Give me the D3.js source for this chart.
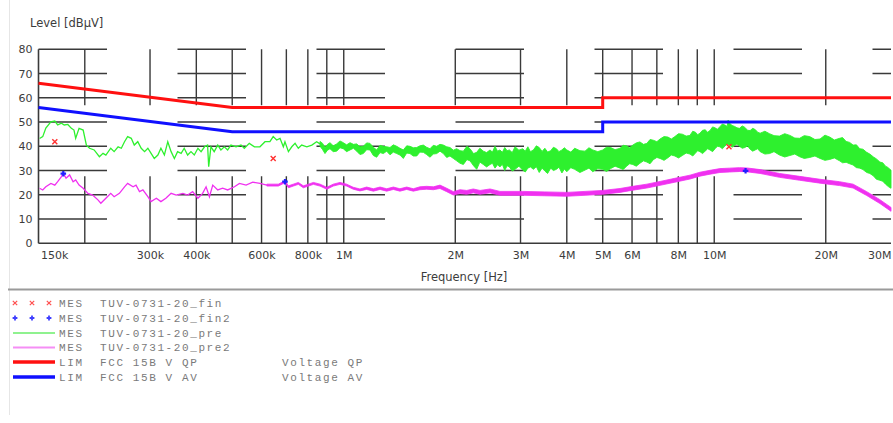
<!DOCTYPE html>
<html><head><meta charset="utf-8">
<script src="https://cdn.jsdelivr.net/npm/d3@7/dist/d3.min.js"></script>
<style>body{margin:0;background:#fff}svg{display:block}</style>
</head><body><svg id="c" width="893" height="423"></svg>
<script>
// ---------- data (frequencies in kHz, levels in dBµV) ----------
const yTicks = [0,10,20,30,40,50,60,70,80];
const xTickValues = [150,300,400,600,800,1000,2000,3000,4000,5000,6000,8000,10000,20000,30000];
const xTickLabels = ["150k","300k","400k","600k","800k","1M","2M","3M","4M","5M","6M","8M","10M","20M","30M"];
const gridFreqs = [200,300,400,500,600,700,800,900,1000,2000,3000,4000,5000,6000,7000,8000,9000,10000,20000];

const qpF = [150,500,5000,5000,30000];
const qpL = [66,56,56,60,60];
const avF = [150,500,5000,5000,30000];
const avL = [56,46,46,50,50];

const finF = [166,645,10960];
const finL = [41.9,35.0,39.8];
const fin2F = [175,694,12150];
const fin2L = [28.7,25.4,29.9];

// pre (green) – sparse part
const preLineF = [151,154,157,162,166,169,173,176,180,184,187,189,193,198,202,206,212,219,224,228,235,240,246,251,256,261,267,272,278,284,290,296,302,308,315,321,328,335,342,349,356,364,371,379,387,395,404,412,421,429,432,438,447,457,466,476,486,496,512,528,539,556,574,594,613,632,645,659,673,687,694,709,724,739,754,770,795,820,845,863];
const preLine = [43.2,44,47.5,50.1,50.4,48.8,49.5,48.8,49,47.4,46.7,43.3,47.4,46.7,40.5,39.2,38.5,35.7,37.1,36.4,39.2,37.8,39.8,39.2,41.9,44,43.3,40.5,41.9,39.2,37.8,39.2,37.1,35,36.4,39.2,36.4,41.9,37.8,35,37.8,37.1,39.2,36.4,37.8,36.4,39.2,37.8,39.8,40.5,31.6,39.8,37.8,40.5,38.5,39.8,38.5,40.5,39.8,40.5,39.2,41.2,39.8,39.8,41.9,41.9,44,42.6,43.3,39.8,41.9,37.8,39.8,41.2,39.2,40.5,39.8,40.5,41.9,41];
// pre (green) – dense part as min/max envelope
const preBandF = [863,877,890,904,918,937,957,977,997,1018,1040,1062,1084,1106,1129,1153,1177,1202,1227,1253,1279,1306,1333,1361,1390,1418,1448,1479,1509,1541,1574,1606,1640,1674,1709,1745,1782,1819,1857,1896,1935,1976,2018,2060,2103,2150,2192,2240,2285,2330,2381,2430,2482,2520,2560,2600,2640,2680,2720,2760,2800,2850,2900,2970,3040,3090,3140,3190,3250,3310,3370,3430,3490,3550,3620,3680,3750,3810,3880,3940,4000,4100,4200,4340,4480,4590,4700,4850,5000,5120,5250,5400,5570,5680,5800,5910,6030,6160,6300,6440,6580,6710,6850,7000,7140,7320,7500,7660,7830,8010,8200,8400,8600,8750,8900,9020,9150,9300,9450,9600,9740,9900,10050,10200,10360,10520,10680,10840,10900,11000,11170,11350,11520,11700,11900,12100,12300,12500,12700,12900,13100,13300,13700,14100,14500,15000,15500,16000,16500,17000,17500,18100,18700,19300,19900,20500,21100,21800,22200,22700,23200,23700,24200,24700,25200,25800,26300,26900,27400,28000,28500,29000,29500,30000];
const preBandLo = [40,38.6,37,38.4,39,37.8,38,39.4,39,37.8,38.5,39.2,38,36.6,37,38.6,38.5,36.2,35.5,37.4,37,38,36.5,37.6,37,36.4,35,37.2,37,36,36,37.6,37.5,36.6,35.5,36.8,37,38,37,35.4,36,35,34,33,32.5,34.5,34,32,30.5,33.5,32.5,31.5,32.5,33,31,32.4,31.5,32.6,30,32,31.5,29.8,30.5,31.8,30.2,29.4,31,31.5,30.5,31.6,29.2,31,29.8,28.8,31,30,30.5,31.4,29,30.6,29.5,31.2,30.5,29.2,30.2,31,29.5,30.8,30.5,29.6,30.8,31.8,31,30.4,31.8,32.8,32.5,31.8,33,34,33.5,32.8,34.5,35.4,35,34.2,35.3,36.4,36,35.2,36.2,37.2,36.8,36,37.2,38.2,37.8,37,38,39,38.5,37.8,39,40,39.8,39,40,41,40.6,40.5,39.6,40.3,41,40,39.2,39.5,40.2,38.8,38,38.5,39,37.8,36.8,37,37.8,36.4,35.6,36.2,36.8,35.7,35,35.4,36,35,34.2,34.6,35.2,34,33.2,33.4,32.8,32.3,31.2,31,30.4,29.2,28.8,27.8,26.4,26,25.6,24.4,23.4,22.7];
const preBandHi = [42,41.2,39.5,40.8,41.5,40.2,41,42.2,41.5,40.6,41.5,40.8,41,39.8,40,41.4,41.2,39.6,38.5,40.4,40,39.8,39.5,40.6,40,39.2,38.5,40.2,40,39.4,39.5,40.2,40.5,39.6,39,40.4,40,40.8,40.5,39.8,39.5,38.4,39,38.2,38,40,39,37,37.5,39.2,38,37.4,38.5,37.6,40,38,38.5,37.5,39.5,38.2,38.5,37.4,39.8,38.4,39,38,39.8,37.8,38.5,40.2,39.5,37.9,39.2,37.6,38.2,39.6,39,37.8,38.5,39.4,38.5,37.6,39.2,38.2,38,39.4,38.5,37.8,38.5,39.6,39.5,38.6,39.2,40.4,40.2,39.4,40.5,41.4,41.8,40.8,41.2,42.8,42.5,41.9,43,44,43.8,43,44,45.2,45,44.2,44.5,46.2,45.8,44.8,45.4,46.6,46.8,45.8,46.5,48,47.6,47,48.1,49.2,48.8,48.2,50.8,49.5,48.6,48.2,47.6,47.4,48.4,47.8,46.6,46.5,47.4,46.9,45.8,45.4,46.2,45.2,44.4,44.2,45.2,44.5,43.4,43.3,44.4,44,42.8,43,44.6,43.8,42.6,43.3,43.6,42,41.6,40.5,40.6,39,38.8,37.5,36.8,35.6,34.8,33.5,33.2,31.8,31.2,30];

// pre2 (magenta) – sparse part
const pre2LineF = [151,154,157,162,166,169,173,175,178,182,186,189,193,198,204,210,217,221,228,235,240,248,256,261,270,275,281,287,296,302,312,321,331,342,353,368,379,391,404,416,425,434,443,457,471,486,507,523,545,568,594,620];
const pre2Line = [22.7,22,23.3,24.7,24,25.4,27.5,28.9,26.8,28.2,25.4,26.1,24,22.7,20.6,19.9,17.9,16.5,18.6,20.6,19.2,20.6,23.3,24.7,23.3,24,21.3,22,19.2,17.2,18.6,17.2,18.6,20.6,19.9,20.6,19.9,21.3,18.6,20.6,23.3,19.2,24,22,22.7,22,23.3,24.7,24,25.2,24.7,24];
// pre2 (magenta) – dense part as min/max envelope
const pre2BandF = [620,666,694,709,731,754,778,803,828,863,900,937,977,1018,1061,1106,1153,1202,1253,1306,1361,1418,1479,1541,1606,1674,1745,1819,1896,1976,2060,2147,2237,2333,2482,2640,3040,3490,4000,4480,5000,5570,6030,6580,7140,7830,8600,9150,9740,10360,11000,11700,12200,12500,13300,15000,17000,19300,21800,23700,25800,28000,30000];
const pre2BandLo = [23.6,23.6,25,22.9,23.6,24.3,22.9,23.6,24.3,23.6,22.3,23.6,24.3,23.6,22.3,21.6,22.2,21.5,22.2,21.5,22.2,21.5,22.2,21.5,22.1,22.3,22.1,22.6,21.3,19.9,20.5,20.2,20.8,20.2,20.8,19.8,19.8,19.6,19.4,19.8,20.2,21,21.9,22.8,23.9,25.2,26.5,27.7,28.5,29.2,29.4,29.6,29.5,29.3,28.8,27.2,26,24.8,23.8,22.8,19.7,16.4,13.2];
const pre2BandHi = [24.4,24.4,25.8,23.7,24.4,25.1,23.7,24.4,25.1,24.4,23.1,24.4,25.1,24.4,23.1,22.4,23.2,22.5,23.2,22.5,23.2,22.5,23.2,22.5,23.3,23.5,23.3,24,22.7,21.3,22.1,21.8,22.4,21.8,22.4,21.4,21.4,21.2,21,21.4,21.8,22.6,23.5,24.4,25.5,26.8,28.1,29.3,30.1,30.8,31,31.2,31.1,30.9,30.4,28.8,27.6,26.4,25.4,24.4,21.3,18,14.8];

const legendPrefix = ["MES","MES","MES","MES","LIM","LIM"];
const legendNames = ["TUV-0731-20_fin","TUV-0731-20_fin2","TUV-0731-20_pre","TUV-0731-20_pre2","FCC 15B V QP","FCC 15B V AV"];
const legendNotes = ["","","","","Voltage QP","Voltage AV"];

// ---------- drawing ----------
const svg = d3.select("#c");
const W = 893, H = 423;
const x = d3.scaleLog().domain([150,30000]).range([38.5,891]);
const y = d3.scaleLinear().domain([0,80]).range([243.3,49.3]);

const GREEN = "#2ef02e", MAG = "#f030f0", RED = "#ff1010", BLUE = "#1010ff", GRID = "#3a3a3a";

svg.append("rect").attr("width",W).attr("height",H).attr("fill","#fff");
svg.append("line").attr("x1",9.5).attr("x2",9.5).attr("y1",0).attr("y2",415).attr("stroke","#e6e6e6");
svg.append("line").attr("x1",8).attr("x2",W).attr("y1",289.5).attr("y2",289.5).attr("stroke","#9a9a9a").attr("stroke-width",2);

// grid
const g = svg.append("g");
g.selectAll("line.h").data(yTicks.filter(d=>d>0)).join("line")
  .attr("x1",x(150)).attr("x2",x(30000)).attr("y1",d=>y(d)).attr("y2",d=>y(d))
  .attr("stroke",GRID).attr("stroke-width",1.4).attr("stroke-dasharray","68.5,70.5");
g.selectAll("line.v").data(gridFreqs).join("line")
  .attr("x1",d=>x(d)).attr("x2",d=>x(d)).attr("y1",y(0)).attr("y2",y(80))
  .attr("stroke",GRID).attr("stroke-width",1.4).attr("stroke-dasharray","67,71");

svg.append("line").attr("x1",x(150)).attr("x2",x(150)).attr("y1",y(0)).attr("y2",y(80)).attr("stroke",GRID).attr("stroke-width",1.6);
svg.append("line").attr("x1",x(150)).attr("x2",x(30000)).attr("y1",y(0)).attr("y2",y(0)).attr("stroke",GRID).attr("stroke-width",1.6);

const yAx = svg.append("g").attr("transform",`translate(${x(150)},0)`)
  .call(d3.axisLeft(y).tickValues(yTicks).tickSize(0).tickPadding(6).tickFormat(d3.format("d")));
yAx.select(".domain").remove();
yAx.selectAll("text").attr("font-family","DejaVu Sans").attr("font-size",11).attr("fill","#3c3c3c");

const xAx = svg.append("g").attr("transform",`translate(0,${y(0)})`)
  .call(d3.axisBottom(x).tickValues(xTickValues).tickSize(0).tickPadding(8).tickFormat((d,i)=>xTickLabels[i]));
xAx.select(".domain").remove();
xAx.selectAll("text").attr("font-family","DejaVu Sans").attr("font-size",11).attr("fill","#3c3c3c")
  .attr("text-anchor",(d,i)=> i===0 ? "start" : (i===xTickValues.length-1 ? "end" : "middle"))
  .attr("dx",(d,i)=> i===0 ? 2 : 0);

svg.append("text").attr("x",30).attr("y",27).text("Level [dBµV]")
  .attr("font-family","DejaVu Sans").attr("font-size",11.5).attr("fill","#3c3c3c");
svg.append("text").attr("x",464).attr("y",281).attr("text-anchor","middle").text("Frequency [Hz]")
  .attr("font-family","DejaVu Sans").attr("font-size",11.5).attr("fill","#3c3c3c");

// traces
const line = d3.line().x(d=>x(d[0])).y(d=>y(d[1]));
const area = d3.area().x(d=>x(d[0])).y0(d=>y(d[1])).y1(d=>y(d[2]));
const plot = svg.append("g");

plot.append("path").datum(preBandF.map((f,i)=>[f,preBandLo[i],preBandHi[i]]))
  .attr("d",area).attr("fill",GREEN).attr("stroke",GREEN).attr("stroke-width",0.9).attr("stroke-linejoin","miter");
plot.append("path").datum(preLineF.map((f,i)=>[f,preLine[i]]))
  .attr("d",line).attr("fill","none").attr("stroke",GREEN).attr("stroke-width",1.3);

plot.append("path").datum(pre2BandF.map((f,i)=>[f,pre2BandLo[i],pre2BandHi[i]]))
  .attr("d",area).attr("fill",MAG).attr("stroke",MAG).attr("stroke-width",0.8).attr("stroke-linejoin","round");
plot.append("path").datum(pre2LineF.map((f,i)=>[f,pre2Line[i]]))
  .attr("d",line).attr("fill","none").attr("stroke",MAG).attr("stroke-width",1.3);

plot.append("path").datum(qpF.map((f,i)=>[f,qpL[i]])).attr("d",line)
  .attr("fill","none").attr("stroke",RED).attr("stroke-width",3);
plot.append("path").datum(avF.map((f,i)=>[f,avL[i]])).attr("d",line)
  .attr("fill","none").attr("stroke",BLUE).attr("stroke-width",3);

const xMark = (cx,cy,s)=>`M${cx-s},${cy-s}L${cx+s},${cy+s}M${cx-s},${cy+s}L${cx+s},${cy-s}`;
const pMark = (cx,cy,s)=>`M${cx-s},${cy}L${cx+s},${cy}M${cx},${cy-s}L${cx},${cy+s}`;
plot.selectAll("path.fin").data(finF.map((f,i)=>[f,finL[i]])).join("path")
  .attr("d",d=>xMark(x(d[0]),y(d[1]),2.5)).attr("stroke","#ff3030").attr("stroke-width",1.4).attr("fill","none");
plot.selectAll("path.fin2").data(fin2F.map((f,i)=>[f,fin2L[i]])).join("path")
  .attr("d",d=>pMark(x(d[0]),y(d[1]),2.8)).attr("stroke","#2020ff").attr("stroke-width",2.2).attr("fill","none");

// legend
const legY = [303,318,333,347.5,362,377];
const leg = svg.append("g");
const monoText = (sel)=>sel.attr("font-family","Liberation Mono").attr("font-size",11)
  .attr("letter-spacing",1.6).attr("fill","#7a7a7a");
[15,32,49].forEach(cx=>{
  leg.append("path").attr("d",xMark(cx,legY[0],2.2)).attr("stroke","#ff5050").attr("stroke-width",1.2);
  leg.append("path").attr("d",pMark(cx,legY[1],2.4)).attr("stroke","#4040ff").attr("stroke-width",1.8);
});
const legLines = [[2,"#8ff28f",2],[3,"#f58ef5",2],[4,RED,3.5],[5,BLUE,3.5]];
legLines.forEach(([i,c,w])=>{
  leg.append("line").attr("x1",13).attr("x2",55).attr("y1",legY[i]).attr("y2",legY[i])
    .attr("stroke",c).attr("stroke-width",w);
});
legendPrefix.forEach((t,i)=>{
  leg.append("text").attr("x",59).attr("y",legY[i]+3.5).text(t).call(monoText);
  leg.append("text").attr("x",100).attr("y",legY[i]+3.5).text(legendNames[i]).call(monoText);
  if (legendNotes[i]) leg.append("text").attr("x",282).attr("y",legY[i]+3.5).text(legendNotes[i]).call(monoText);
});
</script></body></html>
